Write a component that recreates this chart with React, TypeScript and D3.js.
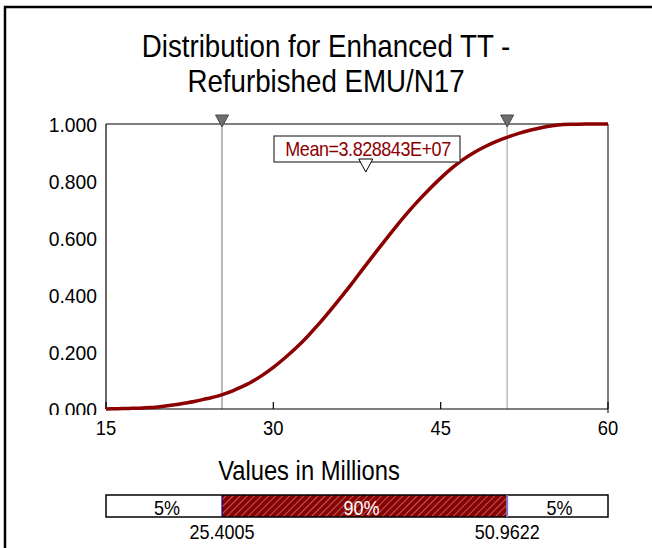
import React from "react";
import * as d3 from "d3";

const titleLines = ["Distribution for Enhanced TT -", "Refurbished EMU/N17"];
const xLabel = "Values in Millions";
const xValues = [15, 16, 17, 18, 19, 20, 21, 22, 23, 24, 25, 26, 27, 28, 29, 30, 31, 32, 33, 34, 35, 36, 37, 38, 39, 40, 41, 42, 43, 44, 45, 46, 47, 48, 49, 50, 51, 52, 53, 54, 55, 56, 57, 58, 59, 60];
const cdfValues = [0.0, 0.001, 0.002, 0.003, 0.005, 0.009, 0.014, 0.02, 0.027, 0.036, 0.045, 0.058, 0.075, 0.094, 0.118, 0.146, 0.178, 0.213, 0.252, 0.295, 0.341, 0.389, 0.438, 0.49, 0.541, 0.591, 0.64, 0.687, 0.731, 0.772, 0.81, 0.845, 0.875, 0.9, 0.921, 0.939, 0.954, 0.967, 0.978, 0.987, 0.994, 0.998, 0.999, 1.0, 1.0, 1.0];
const xTicks = [15, 30, 45, 60];
const yTicks = [0, 0.2, 0.4, 0.6, 0.8, 1.0];
const percentiles = [25.4005, 50.9622];
const percentileLabels = ["25.4005", "50.9622"];
const bandLabels = ["5%", "90%", "5%"];
const meanValue = 38.28843;
const meanLabel = "Mean=3.828843E+07";

const FONT = "'Liberation Sans', Arial, sans-serif";
const RED = "#8b0000";

export default function App() {
  const x = d3.scaleLinear().domain([15, 60]).range([106, 608]);
  const y = d3.scaleLinear().domain([0, 1]).range([409, 124]);
  const pts: [number, number][] = xValues.map((v, i) => [v, cdfValues[i]]);
  const line = d3
    .line<[number, number]>()
    .x((d) => x(d[0]))
    .y((d) => y(d[1]))
    .curve(d3.curveMonotoneX);

  const p0 = x(percentiles[0]);
  const p1 = x(percentiles[1]);
  const xm = x(meanValue);
  const barTop = 495;
  const barBot = 517;
  const tri = (cx: number, top: number, w: number, h: number) =>
    `M${cx - w / 2},${top} L${cx + w / 2},${top} L${cx},${top + h} Z`;

  return (
    <svg
      width={652}
      height={548}
      style={{ position: "absolute", left: 0, top: 0, background: "#fff" }}
      fontFamily={FONT}
    >
      <defs>
        <pattern id="hatch" width={5} height={5} patternUnits="userSpaceOnUse" patternTransform="rotate(45)">
          <rect width={5} height={5} fill={RED} />
          <line x1={0} y1={0} x2={0} y2={5} stroke="#c9a3a3" strokeWidth={1.2} />
        </pattern>
        <clipPath id="ylab">
          <rect x={0} y={100} width={105} height={315} />
        </clipPath>
      </defs>
      <rect x={0} y={0} width={652} height={548} fill="#fff" />
      {/* outer frame */}
      <rect x={5} y={7} width={700} height={600} fill="none" stroke="#000" strokeWidth={2.5} />

      {/* title */}
      {titleLines.map((t, i) => (
        <text
          key={i}
          transform={`translate(326,${57 + i * 35}) scale(0.88,1)`}
          textAnchor="middle"
          fontSize={31.5}
          fill="#000"
        >
          {t}
        </text>
      ))}

      {/* y labels */}
      <g clipPath="url(#ylab)">
        {yTicks.map((t) => (
          <text
            key={t}
            transform={`translate(97,${y(t) + 8}) scale(0.92,1)`}
            textAnchor="end"
            fontSize={21}
            fill="#000"
          >
            {t.toFixed(3)}
          </text>
        ))}
      </g>

      {/* percentile lines */}
      <line x1={p0} x2={p0} y1={y(1)} y2={y(0)} stroke="#8c8c8c" strokeWidth={1.2} />
      <line x1={p1} x2={p1} y1={y(1)} y2={y(0)} stroke="#bdbdbd" strokeWidth={1.5} />

      {/* plot frame */}
      <line x1={x(15)} x2={x(60)} y1={y(1)} y2={y(1)} stroke="#000" strokeWidth={1.2} />
      <line x1={x(60)} x2={x(60)} y1={y(1)} y2={y(0) + 4} stroke="#555" strokeWidth={1.5} />
      <line x1={x(15)} x2={x(15)} y1={y(1)} y2={y(0)} stroke="#000" strokeWidth={1.2} />
      <line x1={x(15)} x2={x(60)} y1={y(0)} y2={y(0)} stroke="#000" strokeWidth={1.2} />
      {xTicks.map((t) => (
        <line key={t} x1={x(t)} x2={x(t)} y1={y(0) - 7} y2={y(0)} stroke="#000" strokeWidth={1.2} />
      ))}
      {xTicks.map((t) => (
        <text
          key={t}
          transform={`translate(${x(t)},435) scale(0.92,1)`}
          textAnchor="middle"
          fontSize={20}
          fill="#000"
        >
          {t}
        </text>
      ))}

      {/* curve */}
      <path d={line(pts) || ""} fill="none" stroke={RED} strokeWidth={3.5} strokeLinejoin="round" />

      {/* percentile markers */}
      {[p0, p1].map((px, i) => (
        <path key={i} d={tri(px, 115, 13, 12)} fill="#6e6e6e" stroke="#4a4a4a" strokeWidth={1} />
      ))}

      {/* mean box */}
      <rect x={274} y={136} width={186} height={26} fill="#fff" stroke="#333" strokeWidth={1.2} />
      <text
        transform="translate(368,156) scale(0.9,1)"
        textAnchor="middle"
        fontSize={20}
        fill={RED}
        letterSpacing={-0.5}
      >
        {meanLabel}
      </text>
      <path d={tri(xm, 159, 14, 13)} fill="#fff" stroke="#000" strokeWidth={1} />

      {/* x label */}
      <text transform="translate(309,480) scale(0.88,1)" textAnchor="middle" fontSize={27} fill="#000">
        {xLabel}
      </text>

      {/* bar */}
      <rect x={x(15)} y={barTop} width={p0 - x(15)} height={barBot - barTop} fill="#fff" />
      <rect x={p0} y={barTop} width={p1 - p0} height={barBot - barTop} fill="url(#hatch)" />
      <rect x={p1} y={barTop} width={x(60) - p1} height={barBot - barTop} fill="#fff" />
      <rect x={x(15)} y={barTop} width={x(60) - x(15)} height={barBot - barTop} fill="none" stroke="#000" strokeWidth={1.5} />
      <line x1={p0} x2={p0} y1={barTop} y2={barBot} stroke="#000080" strokeWidth={1.2} />
      <line x1={p1} x2={p1} y1={barTop} y2={barBot} stroke="#8080c8" strokeWidth={2} />
      {[
        { cx: (x(15) + p0) / 2 + 3, fill: "#000" },
        { cx: (p0 + p1) / 2 - 3, fill: "#fff" },
        { cx: (p1 + x(60)) / 2 + 2, fill: "#000" },
      ].map((b, i) => (
        <text
          key={i}
          transform={`translate(${b.cx},515) scale(0.9,1)`}
          textAnchor="middle"
          fontSize={20}
          fill={b.fill}
        >
          {bandLabels[i]}
        </text>
      ))}
      {percentiles.map((p, i) => (
        <text
          key={i}
          transform={`translate(${x(p)},539) scale(0.9,1)`}
          textAnchor="middle"
          fontSize={20}
          fill="#000"
        >
          {percentileLabels[i]}
        </text>
      ))}
    </svg>
  );
}
